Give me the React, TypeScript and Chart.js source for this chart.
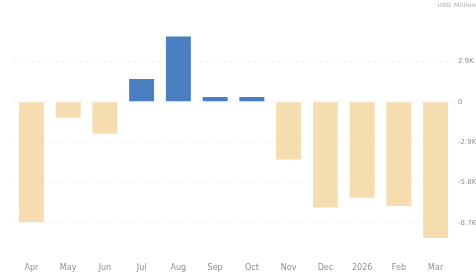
import React, { useEffect, useRef } from "react";
import { Chart, registerables } from "chart.js";

Chart.register(...registerables);

const categories = ["Apr", "May", "Jun", "Jul", "Aug", "Sep", "Oct", "Nov", "Dec", "2026", "Feb", "Mar"];
const values = [-8650, -1150, -2300, 1650, 4700, 350, 350, -4150, -7600, -6900, -7500, -9800];
const tickValues = [-8700, -5800, -2900, 0, 2900];
const tickLabels = ["-8.7K", "-5.8K", "-2.9K", "0", "2.9K"];
const unitLabel = "USD Million";

const POS = "#4a7fc1";
const NEG = "#f5ddaf";

export default function App() {
  const ref = useRef<HTMLCanvasElement | null>(null);
  useEffect(() => {
    document.body.style.margin = "0";
    const ctx = ref.current!;
    const chart = new Chart(ctx, {
      type: "bar",
      data: {
        labels: categories,
        datasets: [
          {
            data: values,
            backgroundColor: values.map((v) => (v >= 0 ? POS : NEG)),
            borderWidth: 0,
            categoryPercentage: 0.68,
            barPercentage: 1,
          },
        ],
      },
      options: {
        responsive: false,
        animation: false,
        maintainAspectRatio: false,
        layout: { padding: { left: 13, right: 0, top: 0, bottom: 0 } },
        plugins: {
          legend: { display: false },
          tooltip: { enabled: false },
          title: {
            display: true,
            text: unitLabel,
            align: "end",
            color: "#c8c8c8",
            font: { family: "DejaVu Sans", size: 6 },
            padding: { top: 2, bottom: 12 },
          },
        },
        scales: {
          x: {
            grid: { display: false },
            border: { display: false },
            ticks: {
              color: "#8f8f8f",
              font: { family: "DejaVu Sans", size: 8 },
              padding: 10,
              maxRotation: 0,
              autoSkip: false,
            },
            afterFit: (s: any) => {
              s.height = 28;
            },
          },
          y: {
            position: "right",
            min: -10300,
            max: 5800,
            grid: { color: "#f1f1f1", drawTicks: false },
            border: { display: false, dash: [3, 3] },
            afterBuildTicks: (s: any) => {
              s.ticks = tickValues.map((v) => ({ value: v }));
            },
            ticks: {
              color: "#8f8f8f",
              font: { family: "DejaVu Sans", size: 7 },
              padding: 4,
              callback: (v: any) => {
                const i = tickValues.indexOf(Number(v));
                return i >= 0 ? tickLabels[i] : "";
              },
            },
            afterFit: (s: any) => {
              s.width = 22;
            },
          },
        },
      },
    });
    return () => chart.destroy();
  }, []);
  return (
    <div style={{ position: "absolute", left: 0, top: 0, width: 476, height: 273 }}>
      <canvas ref={ref} width={476} height={273} style={{ width: 476, height: 273 }} />
    </div>
  );
}
